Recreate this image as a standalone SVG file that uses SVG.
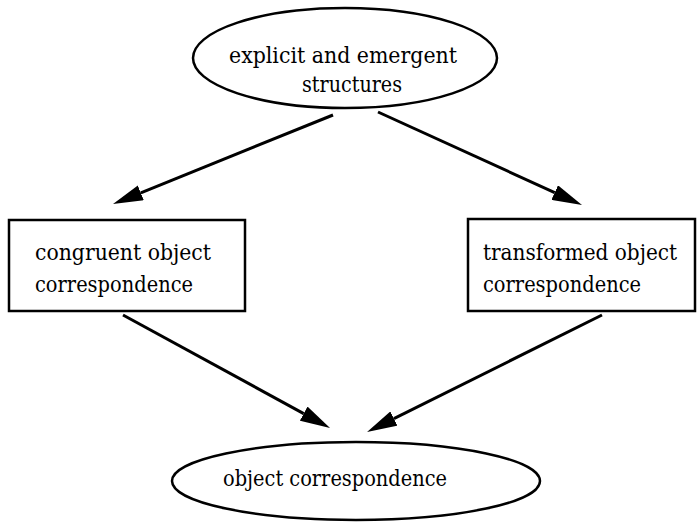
<svg xmlns="http://www.w3.org/2000/svg" width="697" height="522" viewBox="0 0 697 522">
  <style>
    .shape { fill: #ffffff; stroke: #000000; stroke-width: 2.5; }
    .edge { fill: none; stroke: #000000; stroke-width: 3; marker-end: url(#head); }
    .label { font-family: 'DejaVu Serif', 'Liberation Serif', serif; font-size: 23px; fill: #000000; }
    .tight { font-size: 21.5px; }
  </style>
  <defs>
    <!-- filled triangular arrowhead, drawn from the line end forward -->
    <marker id="head" viewBox="0 -8 30 16" refX="0" refY="0" markerWidth="30" markerHeight="16" markerUnits="userSpaceOnUse" orient="auto">
      <path d="M0,-8 L30,0 L0,8 z" fill="#000000"/>
    </marker>
  </defs>
  <rect width="697" height="522" fill="#ffffff"/>

  <g id="edges">
    <line class="edge" x1="333" y1="115" x2="140.8" y2="192.8"/>
    <line class="edge" x1="378" y1="112" x2="554.7" y2="192.6"/>
    <line class="edge" x1="123" y1="315" x2="303.7" y2="413.6"/>
    <line class="edge" x1="602" y1="315" x2="393.9" y2="418.6"/>
  </g>

  <g id="structures">
    <ellipse class="shape" cx="345" cy="58" rx="152" ry="50"/>
    <text class="label" x="229" y="63" textLength="228" lengthAdjust="spacingAndGlyphs">explicit and emergent</text>
    <text class="label" x="302" y="92" textLength="100" lengthAdjust="spacingAndGlyphs">structures</text>
  </g>

  <g id="congruent">
    <rect class="shape" x="9" y="220" width="236" height="91"/>
    <text class="label" x="35" y="260" textLength="176" lengthAdjust="spacingAndGlyphs">congruent object</text>
    <text class="label" x="35" y="292" textLength="158" lengthAdjust="spacingAndGlyphs">correspondence</text>
  </g>

  <g id="transformed">
    <rect class="shape" x="468" y="219" width="227" height="92"/>
    <text class="label tight" x="483" y="260" textLength="194" lengthAdjust="spacingAndGlyphs">transformed object</text>
    <text class="label" x="483" y="292" textLength="158" lengthAdjust="spacingAndGlyphs">correspondence</text>
  </g>

  <g id="correspondence">
    <ellipse class="shape" cx="356" cy="481" rx="184" ry="39"/>
    <text class="label" x="223" y="486" textLength="224" lengthAdjust="spacingAndGlyphs">object correspondence</text>
  </g>
</svg>
